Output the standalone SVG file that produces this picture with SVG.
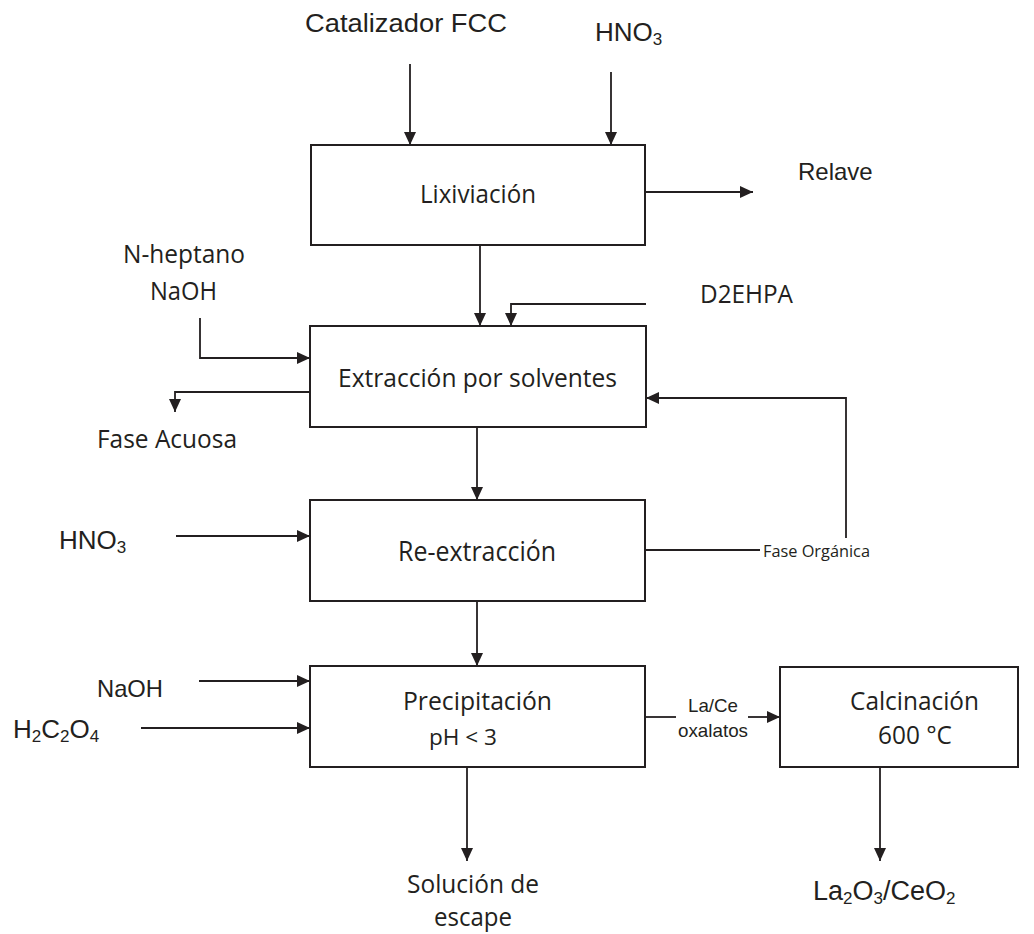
<svg xmlns="http://www.w3.org/2000/svg" width="1034" height="934" viewBox="0 0 1034 934">
  <style>
    .box { fill: #ffffff; stroke: #231f20; stroke-width: 2; }
    .conn { fill: none; stroke: #231f20; stroke-width: 1.8; }
    .arrow { marker-end: url(#head); }
    .cal { font-family: "Open Sans", "Noto Sans", sans-serif; fill: #231f20; }
    .ari { font-family: "Liberation Sans", Arial, sans-serif; fill: #231f20; }
  </style>
  <defs>
    <marker id="head" markerUnits="userSpaceOnUse" markerWidth="13" markerHeight="12" refX="13" refY="6" orient="auto">
      <path d="M0,0 L13,6 L0,12 z" fill="#231f20"/>
    </marker>
  </defs>

  <rect width="1034" height="934" fill="#ffffff"/>

  <!-- connectors -->
  <g id="connectors">
    <path class="conn arrow" d="M410,64 V145"/>
    <path class="conn arrow" d="M611,72 V145"/>
    <path class="conn arrow" d="M645,192 H753"/>
    <path class="conn arrow" d="M480,245 V326"/>
    <path class="conn arrow" d="M200,318 V358 H310"/>
    <path class="conn arrow" d="M310,392 H175 V412"/>
    <path class="conn arrow" d="M646,304 H511 V326"/>
    <path class="conn" d="M645,550 H760"/>
    <path class="conn arrow" d="M846,538 V398 H646"/>
    <path class="conn arrow" d="M477,427 V500"/>
    <path class="conn arrow" d="M176,536 H310"/>
    <path class="conn arrow" d="M477,601 V666"/>
    <path class="conn arrow" d="M199,681 H310"/>
    <path class="conn arrow" d="M141,728 H310"/>
    <path class="conn" d="M645,717 H676"/>
    <path class="conn arrow" d="M748,717 H780"/>
    <path class="conn arrow" d="M467,767 V861"/>
    <path class="conn arrow" d="M880,767 V861"/>
  </g>

  <!-- process units -->
  <g id="lixiviacion">
    <rect class="box" x="311" y="145" width="334" height="100"/>
    <text class="cal" x="420" y="203" font-size="26" textLength="116" lengthAdjust="spacingAndGlyphs">Lixiviación</text>
  </g>
  <g id="extraccion">
    <rect class="box" x="310" y="326" width="336" height="101"/>
    <text class="cal" x="338" y="387" font-size="26" textLength="279" lengthAdjust="spacingAndGlyphs">Extracción por solventes</text>
  </g>
  <g id="reextraccion">
    <rect class="box" x="310" y="500" width="335" height="101"/>
    <text class="cal" x="398" y="561" font-size="27" textLength="158" lengthAdjust="spacingAndGlyphs">Re-extracción</text>
  </g>
  <g id="precipitacion">
    <rect class="box" x="310" y="666" width="335" height="101"/>
    <text class="cal" x="403" y="710" font-size="26" textLength="149" lengthAdjust="spacingAndGlyphs">Precipitación</text>
    <text class="cal" x="429" y="745" font-size="21" textLength="68" lengthAdjust="spacingAndGlyphs">pH &lt; 3</text>
  </g>
  <g id="calcinacion">
    <rect class="box" x="780" y="667" width="238" height="100"/>
    <text class="cal" x="850" y="710" font-size="26" textLength="129" lengthAdjust="spacingAndGlyphs">Calcinación</text>
    <text class="cal" x="878" y="744" font-size="26" textLength="74" lengthAdjust="spacingAndGlyphs">600 °C</text>
  </g>

  <!-- feeds and products -->
  <g id="catalizador">
    <text class="ari" x="305" y="32" font-size="26" textLength="202" lengthAdjust="spacingAndGlyphs">Catalizador FCC</text>
  </g>
  <g id="hno3-lix">
    <text class="ari" x="595" y="41" font-size="26">HNO<tspan font-size="17" dy="4">3</tspan></text>
  </g>
  <g id="relave">
    <text class="ari" x="798" y="180" font-size="24">Relave</text>
  </g>
  <g id="heptano-naoh">
    <text class="cal" x="123" y="263" font-size="25" textLength="122" lengthAdjust="spacingAndGlyphs">N-heptano</text>
    <text class="cal" x="150" y="300" font-size="25" textLength="67" lengthAdjust="spacingAndGlyphs">NaOH</text>
  </g>
  <g id="d2ehpa">
    <text class="cal" x="700" y="303" font-size="25" textLength="93" lengthAdjust="spacingAndGlyphs">D2EHPA</text>
  </g>
  <g id="fase-acuosa">
    <text class="cal" x="97" y="448" font-size="25" textLength="140" lengthAdjust="spacingAndGlyphs">Fase Acuosa</text>
  </g>
  <g id="hno3-re">
    <text class="ari" x="59" y="549" font-size="26">HNO<tspan font-size="17" dy="4">3</tspan></text>
  </g>
  <g id="fase-organica">
    <text class="cal" x="763" y="557" font-size="17" textLength="107" lengthAdjust="spacingAndGlyphs">Fase Orgánica</text>
  </g>
  <g id="naoh-prec">
    <text class="ari" x="97" y="697" font-size="24" textLength="66" lengthAdjust="spacingAndGlyphs">NaOH</text>
  </g>
  <g id="oxalico">
    <text class="ari" x="13" y="738" font-size="26">H<tspan font-size="17" dy="4">2</tspan><tspan dy="-4">C</tspan><tspan font-size="17" dy="4">2</tspan><tspan dy="-4">O</tspan><tspan font-size="17" dy="4">4</tspan></text>
  </g>
  <g id="oxalatos">
    <text class="ari" x="688" y="712" font-size="18.5" textLength="50" lengthAdjust="spacingAndGlyphs">La/Ce</text>
    <text class="ari" x="678" y="737" font-size="18.5" textLength="70" lengthAdjust="spacingAndGlyphs">oxalatos</text>
  </g>
  <g id="solucion">
    <text class="cal" x="407" y="893" font-size="25" textLength="132" lengthAdjust="spacingAndGlyphs">Solución de</text>
    <text class="cal" x="434" y="926" font-size="25" textLength="78" lengthAdjust="spacingAndGlyphs">escape</text>
  </g>
  <g id="oxidos">
    <text class="ari" x="813" y="900" font-size="27">La<tspan font-size="17" dy="4">2</tspan><tspan dy="-4">O</tspan><tspan font-size="17" dy="4">3</tspan><tspan dy="-4">/CeO</tspan><tspan font-size="17" dy="4">2</tspan></text>
  </g>
</svg>
